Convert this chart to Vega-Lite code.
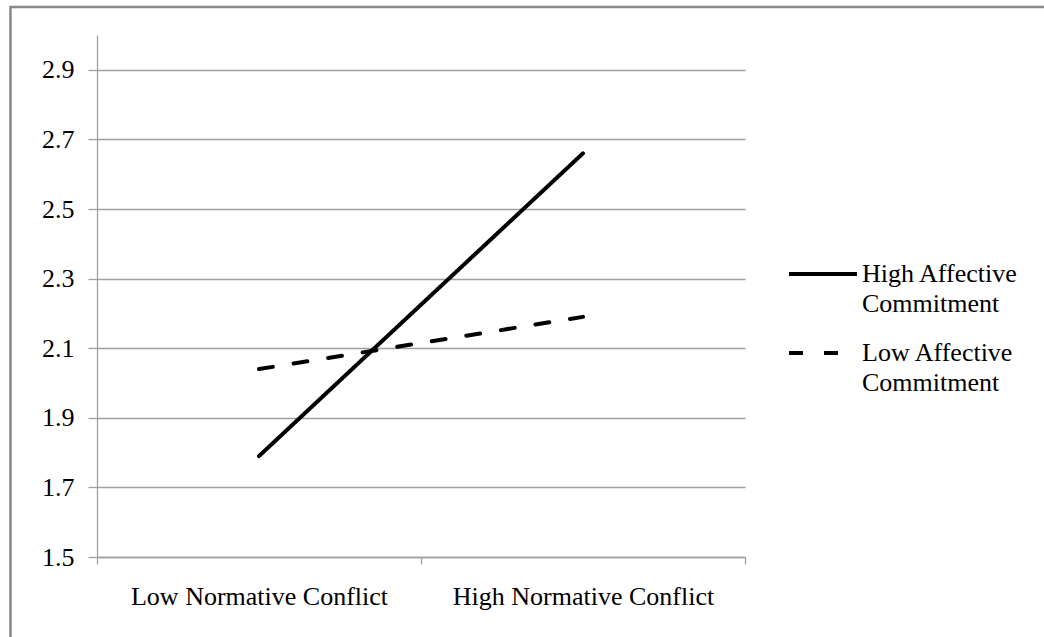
{
  "$schema": "https://vega.github.io/schema/vega-lite/v6.json",
  "width": 648,
  "height": 522,
  "autosize": {"type": "none"},
  "padding": {"left": 97, "top": 35, "right": 299, "bottom": 80},
  "background": "white",
  "config": {"view": {"stroke": null}, "font": "Liberation Serif"},
  "data": {"values": [
    {"conflict": "Low Normative Conflict", "commitment": "High Affective Commitment", "value": 1.79},
    {"conflict": "High Normative Conflict", "commitment": "High Affective Commitment", "value": 2.66},
    {"conflict": "Low Normative Conflict", "commitment": "Low Affective Commitment", "value": 2.04},
    {"conflict": "High Normative Conflict", "commitment": "Low Affective Commitment", "value": 2.19}
  ]},
  "layer": [
    {
      "data": {"values": [{}]},
      "mark": {"type": "rect", "fill": null, "stroke": "#888888", "strokeWidth": 2.5},
      "encoding": {
        "x": {"datum": -0.267, "type": "quantitative", "scale": {"domain": [0, 2], "nice": false, "zero": false}, "axis": null},
        "x2": {"datum": 2.97},
        "y": {"datum": 3.0805, "type": "quantitative"},
        "y2": {"datum": 1.24}
      }
    },
    {
      "mark": {"type": "line", "color": "black", "strokeWidth": 4, "strokeCap": "round"},
      "encoding": {
        "x": {
          "field": "conflict",
          "type": "ordinal",
          "sort": ["Low Normative Conflict", "High Normative Conflict"],
          "bandPosition": 0.5,
          "scale": {"type": "band", "paddingInner": 0, "paddingOuter": 0},
          "axis": {
            "title": null,
            "tickBand": "extent",
            "labelAngle": 0,
            "grid": false,
            "domainColor": "#a0a0a0",
            "domainWidth": 1.3,
            "tickColor": "#a0a0a0",
            "tickWidth": 1.3,
            "tickSize": 7,
            "labelFont": "Liberation Serif",
            "labelFontSize": 26,
            "labelColor": "black",
            "labelPadding": 19,
            "labelLimit": 400
          }
        },
        "y": {
          "field": "value",
          "type": "quantitative",
          "scale": {"domain": [1.5, 3.0], "nice": false, "zero": false},
          "axis": {
            "title": null,
            "values": [1.5, 1.7, 1.9, 2.1, 2.3, 2.5, 2.7, 2.9],
            "format": ".1f",
            "grid": true,
            "gridColor": "#a0a0a0",
            "gridWidth": 1.3,
            "domainColor": "#a0a0a0",
            "domainWidth": 1.3,
            "tickColor": "#a0a0a0",
            "tickWidth": 1.3,
            "tickSize": 9,
            "labelFont": "Liberation Serif",
            "labelFontSize": 26,
            "labelColor": "black",
            "labelPadding": 14
          }
        },
        "strokeDash": {
          "field": "commitment",
          "type": "nominal",
          "scale": {"domain": ["High Affective Commitment", "Low Affective Commitment"], "range": [[1, 0], [14, 21]]},
          "legend": {
            "title": null,
            "orient": "none",
            "legendX": 690,
            "legendY": 203,
            "padding": 0,
            "symbolType": "stroke",
            "symbolSize": 4624,
            "symbolStrokeWidth": 4,
            "symbolStrokeColor": "black",
            "labelFont": "Liberation Serif",
            "labelFontSize": 26,
            "labelColor": "black",
            "labelOffset": 3,
            "labelLimit": 300,
            "labelBaseline": "middle",
            "rowPadding": -3,
            "labelExpr": "datum.label == 'High Affective Commitment' ? ['High Affective', 'Commitment'] : ['Low Affective', 'Commitment']",
            "encode": {"labels": {"update": {"lineHeight": {"value": 30}}}}
          }
        }
      }
    }
  ],
  "resolve": {"scale": {"x": "independent"}}
}
